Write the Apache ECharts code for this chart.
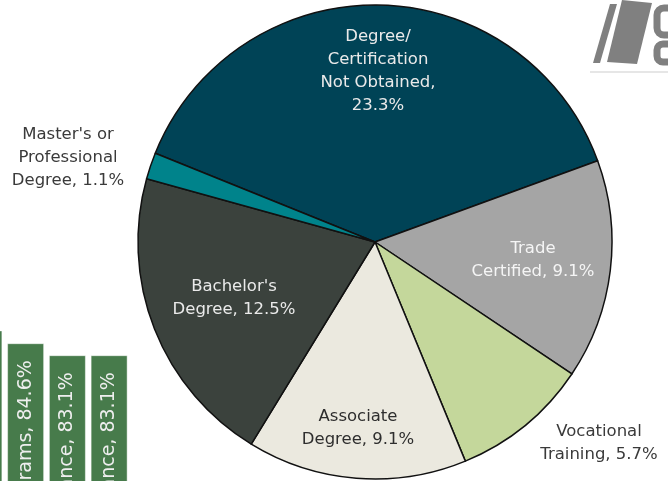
<!DOCTYPE html>
<html lang="en">
<head>
    <meta charset="UTF-8">
    <title>Credential outcomes</title>
    <style>
        html, body { margin: 0; padding: 0; background: #ffffff; }
        #chart { width: 668px; height: 481px; }
    </style>
    <script src="https://cdn.jsdelivr.net/npm/echarts@6/dist/echarts.min.js"></script>
</head>
<body>
    <div id="chart"></div>
    <script>
        // pie data (clockwise, starting with the big slice)
        var pieNames = [
            'Degree/\nCertification\nNot Obtained',
            'Trade\nCertified',
            'Vocational\nTraining',
            'Associate\nDegree',
            "Bachelor's\nDegree",
            "Master's or\nProfessional\nDegree"
        ];
        var pieValues = [23.3, 9.1, 5.7, 9.1, 12.5, 1.1];
        var pieColors = ['#004356', '#a5a5a5', '#c4d79b', '#ebe9df', '#3b423d', '#00838b'];

        // partly visible bar chart at the bottom left
        var barNames = ['Tutoring Services', 'Training Programs', 'Financial Assistance', 'Career Guidance'];
        var barValues = [86.2, 84.6, 83.1, 83.1];

        // label spots (where the original slide put them)
        var labelSpots = [
            [378, 71], [533, 260], [599, 443], [358, 428], [234, 298], [68, 158]
        ];
        var labelColors = ['#eaeaea', '#f5f5f5', '#3a3a3a', '#2e2e2e', '#eaeaea', '#3a3a3a'];

        var FONT = "'Century Gothic', 'DejaVu Sans', sans-serif";

        var pieData = pieNames.map(function (n, i) {
            var d = {
                name: n,
                value: pieValues[i],
                itemStyle: { color: pieColors[i] },
                label: { color: labelColors[i] }
            };
            if (i === 0) {
                d.label.formatter = '{b},\n{c}%'; // value on its own line here
            }
            return d;
        });

        var chart = echarts.init(document.getElementById('chart'), null, { renderer: 'canvas' });

        var option = {
            backgroundColor: '#ffffff',
            animation: false,
            textStyle: { fontFamily: FONT },
            grid: { left: -37, width: 167, top: 220, height: 800, outerBoundsMode: 'none', containLabel: false },
            xAxis: {
                type: 'category',
                data: barNames,
                show: false
            },
            yAxis: {
                type: 'value',
                min: 0,
                max: 100,
                show: false
            },
            graphic: [
                // logo in the corner
                { type: 'polygon', shape: { points: [[610, 4], [617, 4], [600, 63], [593, 63]] }, style: { fill: '#808080' } },
                { type: 'polygon', shape: { points: [[622, 0], [652, 3], [637, 64], [607, 62]] }, style: { fill: '#808080' } },
                { type: 'rect', shape: { x: 657, y: 8, width: 40, height: 27, r: 7 }, style: { fill: 'none', stroke: '#808080', lineWidth: 7 } },
                { type: 'rect', shape: { x: 657, y: 44, width: 40, height: 18, r: 6 }, style: { fill: 'none', stroke: '#808080', lineWidth: 7 } },
                { type: 'line', shape: { x1: 590, y1: 72, x2: 668, y2: 72 }, style: { stroke: '#e6e6e6', lineWidth: 2 } }
            ],
            series: [
                {
                    type: 'bar',
                    data: barValues,
                    barWidth: 37,
                    itemStyle: { color: '#477b4b', borderColor: 'rgba(255,255,255,0.45)', borderWidth: 1 },
                    label: {
                        show: true,
                        position: 'insideTop',
                        rotate: 90,
                        align: 'right',
                        verticalAlign: 'middle',
                        distance: 17,
                        formatter: '{b}, {c}%',
                        color: '#eeeeee',
                        fontSize: 19,
                        fontFamily: FONT
                    },
                    silent: true
                },
                {
                    type: 'pie',
                    center: [375, 242],
                    radius: 237,
                    startAngle: 158,
                    clockwise: true,
                    data: pieData,
                    itemStyle: { borderColor: '#111111', borderWidth: 1.5 },
                    label: {
                        show: true,
                        position: 'inside',
                        formatter: '{b}, {c}%',
                        fontSize: 16.5,
                        lineHeight: 23,
                        fontFamily: FONT,
                        align: 'center'
                    },
                    labelLine: { show: false },
                    labelLayout: function (params) {
                        var p = labelSpots[params.dataIndex];
                        return { x: p[0], y: p[1], align: 'center', verticalAlign: 'middle' };
                    },
                    silent: true
                }
            ]
        };

        chart.setOption(option);
    </script>
</body>
</html>
